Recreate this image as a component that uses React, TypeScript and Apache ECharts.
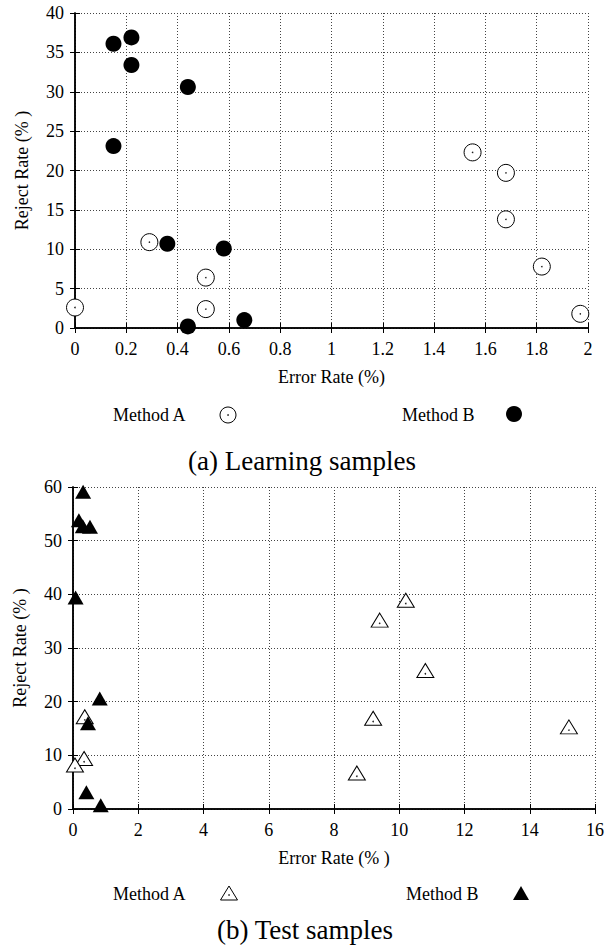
import React, { useEffect, useRef } from "react";
import * as echarts from "echarts";

// Learning samples
const learnAX = [0, 0.29, 0.51, 0.51, 1.55, 1.68, 1.68, 1.82, 1.97];
const learnAY = [2.6, 10.9, 6.4, 2.4, 22.3, 19.7, 13.8, 7.8, 1.8];
const learnBX = [0.15, 0.22, 0.22, 0.44, 0.15, 0.36, 0.58, 0.44, 0.66];
const learnBY = [36.1, 36.9, 33.4, 30.6, 23.1, 10.7, 10.1, 0.2, 1.0];

// Test samples
const testAX = [0.36, 0.34, 0.06, 10.2, 9.4, 10.8, 9.2, 15.2, 8.7];
const testAY = [17.2, 9.4, 8.2, 38.9, 35.2, 25.8, 16.9, 15.3, 6.7];
const testBX = [0.31, 0.18, 0.3, 0.52, 0.08, 0.82, 0.46, 0.41, 0.85];
const testBY = [59.1, 53.8, 52.7, 52.6, 39.4, 20.6, 16.0, 3.1, 0.7];

const seriesNames = ["Method A", "Method B"];
const captions = ["(a) Learning samples", "(b) Test samples"];
const xTitles = ["Error Rate (%)", "Error Rate (% )"];
const yTitle = "Reject Rate (% )";

const FONT = "Liberation Serif";

const zip = (xs: number[], ys: number[]) => xs.map((x, i) => [x, ys[i]]);

function axisPair(
  gridIndex: number,
  min: number,
  max: number,
  interval: number,
  isX: boolean,
  name: string,
  nameGap: number
) {
  const main: any = {
    type: "value",
    gridIndex,
    min,
    max,
    interval,
    position: isX ? "bottom" : "left",
    name,
    nameLocation: "middle",
    nameGap,
    nameTextStyle: { fontFamily: FONT, fontSize: 18, color: "#000" },
    axisLine: { show: true, lineStyle: { color: "#000", width: 1.5 } },
    axisTick: { show: true, inside: true, length: 5, lineStyle: { color: "#000", width: 1 } },
    axisLabel: { show: true, fontFamily: FONT, fontSize: 18, color: "#000", margin: isX ? 12 : 11 },
    splitLine: { show: true, lineStyle: { color: "#444", width: 1, type: [1, 2] } },
  };
  const opp: any = {
    type: "value",
    gridIndex,
    min,
    max,
    interval,
    position: isX ? "top" : "right",
    axisLine: { show: true, lineStyle: { color: "#000", width: 1.5 } },
    axisTick: { show: true, inside: true, length: 5, lineStyle: { color: "#000", width: 1 } },
    axisLabel: { show: false },
    splitLine: { show: false },
  };
  return [main, opp];
}

export default function App() {
  const ref = useRef<HTMLDivElement>(null);
  useEffect(() => {
    if (!ref.current) return;
    const chart = echarts.init(ref.current, undefined, { renderer: "svg" });

    const g1 = { left: 75, top: 13, width: 513, height: 315 };
    const g2 = { left: 73, top: 487, width: 522, height: 322 };

    const [x1, x1t] = axisPair(0, 0, 2, 0.2, true, xTitles[0], 40);
    const [y1, y1r] = axisPair(0, 0, 40, 5, false, yTitle, 44);
    const [x2, x2t] = axisPair(1, 0, 16, 2, true, xTitles[1], 40);
    const [y2, y2r] = axisPair(1, 0, 60, 10, false, yTitle, 44);

    const dot = (xi: number, yi: number, data: number[][]) => ({
      type: "scatter",
      xAxisIndex: xi,
      yAxisIndex: yi,
      data,
      symbol: "circle",
      symbolSize: 1.6,
      itemStyle: { color: "#222", opacity: 1 },
      clip: false,
      silent: true,
      z: 4,
    });

    const legendText = (text: string, x: number, y: number) => ({
      type: "text",
      x,
      y,
      style: {
        text,
        fontFamily: FONT,
        fontSize: 18,
        fill: "#000",
        textAlign: "left",
        textVerticalAlign: "middle",
      },
    });

    const tri = (cx: number, cy: number, w: number, h: number) => [
      [cx, cy - h / 2],
      [cx - w / 2, cy + h / 2],
      [cx + w / 2, cy + h / 2],
    ];

    chart.setOption({
      animation: false,
      backgroundColor: "#fff",
      textStyle: { fontFamily: FONT },
      grid: [
        { ...g1, show: false, containLabel: false },
        { ...g2, show: false, containLabel: false },
      ],
      xAxis: [x1, x1t, x2, x2t],
      yAxis: [y1, y1r, y2, y2r],
      series: [
        {
          name: seriesNames[0],
          type: "scatter",
          xAxisIndex: 0,
          yAxisIndex: 0,
          data: zip(learnAX, learnAY),
          symbol: "circle",
          symbolSize: 17,
          itemStyle: { color: "#fff", borderColor: "#000", borderWidth: 1, opacity: 1 },
          clip: false,
          z: 3,
        },
        dot(0, 0, zip(learnAX, learnAY)),
        {
          name: seriesNames[1],
          type: "scatter",
          xAxisIndex: 0,
          yAxisIndex: 0,
          data: zip(learnBX, learnBY),
          symbol: "circle",
          symbolSize: 16,
          itemStyle: { color: "#000", opacity: 1 },
          clip: false,
          z: 5,
        },
        {
          name: seriesNames[0],
          type: "scatter",
          xAxisIndex: 2,
          yAxisIndex: 2,
          data: zip(testAX, testAY),
          symbol: "triangle",
          symbolSize: [17, 14],
          itemStyle: { color: "#fff", borderColor: "#000", borderWidth: 1, opacity: 1 },
          clip: false,
          z: 3,
        },
        dot(2, 2, zip(testAX, testAY).map((p) => [p[0], p[1] - 0.6])),
        {
          name: seriesNames[1],
          type: "scatter",
          xAxisIndex: 2,
          yAxisIndex: 2,
          data: zip(testBX, testBY),
          symbol: "triangle",
          symbolSize: [16, 14],
          itemStyle: { color: "#000", opacity: 1 },
          clip: false,
          z: 5,
        },
      ],
      graphic: [
        legendText(seriesNames[0], 113, 415),
        { type: "circle", shape: { cx: 228, cy: 415, r: 8 }, style: { fill: "#fff", stroke: "#000", lineWidth: 1 } },
        { type: "circle", shape: { cx: 228, cy: 415, r: 0.8 }, style: { fill: "#222" } },
        legendText(seriesNames[1], 402, 415),
        { type: "circle", shape: { cx: 514, cy: 414, r: 8 }, style: { fill: "#000" } },
        {
          type: "text",
          x: 302,
          y: 461,
          style: { text: captions[0], fontFamily: FONT, fontSize: 27, fill: "#000", textAlign: "center", textVerticalAlign: "middle" },
        },
        legendText(seriesNames[0], 113, 894),
        { type: "polygon", shape: { points: tri(229, 893, 17, 14) }, style: { fill: "#fff", stroke: "#000", lineWidth: 1 } },
        { type: "circle", shape: { cx: 229, cy: 895, r: 0.8 }, style: { fill: "#222" } },
        legendText(seriesNames[1], 406, 894),
        { type: "polygon", shape: { points: tri(521, 893, 16, 14) }, style: { fill: "#000" } },
        {
          type: "text",
          x: 305,
          y: 930,
          style: { text: captions[1], fontFamily: FONT, fontSize: 27, fill: "#000", textAlign: "center", textVerticalAlign: "middle" },
        },
      ],
    });
    return () => chart.dispose();
  }, []);
  return (
    <div
      ref={ref}
      style={{ position: "absolute", left: 0, top: 0, width: 607, height: 946, background: "#fff" }}
    />
  );
}
